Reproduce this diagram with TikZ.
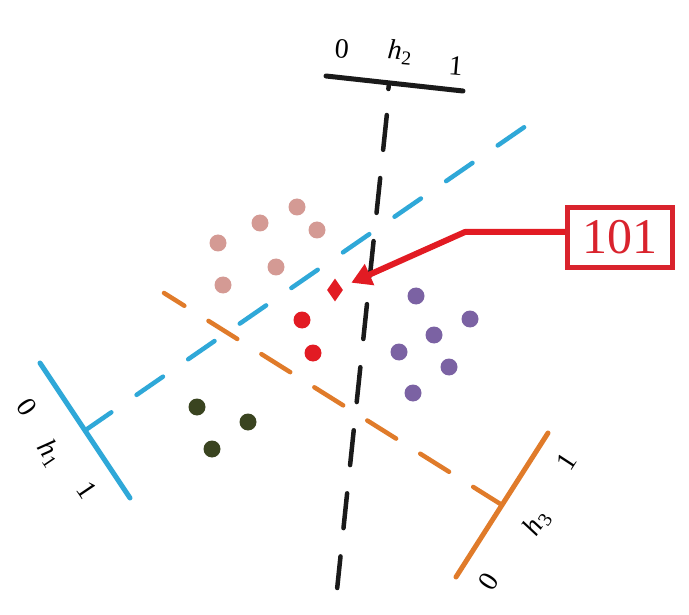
\documentclass[tikz,border=0pt]{standalone}
\usepackage{fontspec}
\setmainfont{Liberation Serif}
\usetikzlibrary{arrows.meta,shapes.geometric}
\definecolor{hblue}{HTML}{2FA8D8}
\definecolor{horange}{HTML}{E07B2A}
\definecolor{hblack}{HTML}{1A1A1A}
\definecolor{cpink}{HTML}{D49A94}
\definecolor{cred}{HTML}{E21B23}
\definecolor{cpurple}{HTML}{7B62A3}
\definecolor{cgreen}{HTML}{3A4420}
\definecolor{boxred}{HTML}{D9232D}
\newcommand{\hname}[1]{\textit{h}\textsubscript{#1}}

\begin{document}
\begin{tikzpicture}[x=1pt,y=-1pt,
  axisline/.style={line width=5pt, line cap=round},
  cutline/.style={line width=4.5pt, line cap=round},
  dot/.style={circle, inner sep=0pt, minimum size=17pt},
  lbl/.style={font=\fontsize{28}{34}\selectfont, inner sep=0pt}]
\useasboundingbox (0,0) rectangle (689,615);
\coordinate (h2a) at (326,76);
\coordinate (h2b) at (463,91);
\coordinate (h2c) at (389,83.5);
\coordinate (h2t) at (388.4,89);
\coordinate (h2s) at (386.8,115);
\coordinate (h2e) at (337.2,588);
\coordinate (h1a) at (40,363);
\coordinate (h1b) at (130,498);
\coordinate (h1c) at (85,430.5);
\coordinate (h1e) at (531,122.5);
\coordinate (h3a) at (548,433);
\coordinate (h3b) at (456,577);
\coordinate (h3c) at (502,505);
\coordinate (h3e) at (164,293);
\draw[cutline, hblue, dash pattern=on 32pt off 30.7pt] (h1c) -- (h1e);
\draw[cutline, horange, dash pattern=on 34pt off 28.5pt] (h3c) -- (h3e);
\draw[cutline, hblack, dash pattern=on 35pt off 28.4pt] (h2s) -- (h2e);
\draw[axisline, hblack] (h2a) -- (h2b);
\draw[cutline, hblack] (h2c) -- (h2t);
\draw[axisline, hblue] (h1a) -- (h1b);
\draw[axisline, horange] (h3a) -- (h3b);
\node[lbl, rotate=-5] (h2zero) at (342,49) {0};
\node[lbl, rotate=-5] (h2name) at (400,52) {\hname{2}};
\node[lbl, rotate=-5] (h2one) at (456,66) {1};
\node[lbl, rotate=-56] (h1zero) at (27,407) {0};
\node[lbl, rotate=-56] (h1name) at (50,453) {\hname{1}};
\node[lbl, rotate=-56] (h1one) at (87,490) {1};
\node[lbl, rotate=57] (h3one) at (567,462) {1};
\node[lbl, rotate=57] (h3name) at (537,523) {\hname{3}};
\node[lbl, rotate=57] (h3zero) at (489,582) {0};
\foreach \i/\p in {1/{(218,243)}, 2/{(260,223)}, 3/{(297,207)}, 4/{(317,230)}, 5/{(276,267)}, 6/{(223,285)}}
  \node[dot, fill=cpink] (pink\i) at \p {};
\node[dot, fill=cred] (red1) at (302,320) {};
\node[dot, fill=cred] (red2) at (313,353) {};
\foreach \i/\p in {1/{(416,296)}, 2/{(470,319)}, 3/{(434,335)}, 4/{(399,352)}, 5/{(449,367)}, 6/{(413,393)}}
  \node[dot, fill=cpurple] (purple\i) at \p {};
\node[dot, fill=cgreen] (green1) at (197,407) {};
\node[dot, fill=cgreen] (green2) at (248,422) {};
\node[dot, fill=cgreen] (green3) at (212,449) {};
\node[diamond, fill=cred, inner sep=0pt, minimum width=16pt, minimum height=23pt] (query) at (335,290) {};
\node[draw=boxred, line width=5pt, minimum width=105pt, minimum height=60pt, text=boxred, font=\fontsize{50}{54}\selectfont] (code) at (620,237.5) {101};
\coordinate (bend) at (465,232);
\draw[cred, line width=6pt, line join=round, shorten >=11pt, -{Triangle[length=20pt, width=22pt]}] (bend -| code.west) -- (bend) -- (query);
\end{tikzpicture}
\end{document}
